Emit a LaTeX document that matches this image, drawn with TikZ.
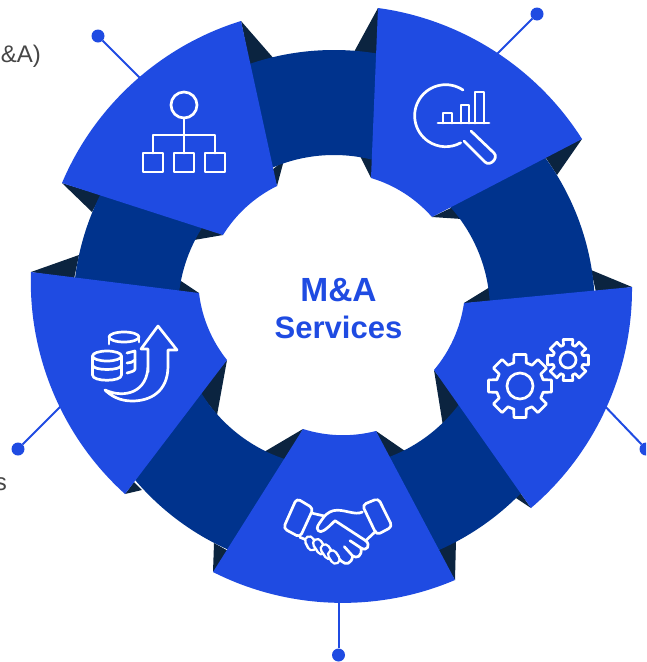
\documentclass[tikz,border=0pt]{standalone}
\usepackage{fontspec}
\setmainfont{Liberation Sans}
\definecolor{segblue}{RGB}{31, 75, 226}
\definecolor{bandblue}{RGB}{0, 51, 141}
\definecolor{foldnavy}{RGB}{11, 36, 64}
\definecolor{textgray}{RGB}{70, 70, 70}
\usetikzlibrary{positioning}
\tikzset{
  segment/.style={fill=segblue},
  outerbend/.style={bend left=25, looseness=.89},
  innerbend/.style={bend right=16, looseness=.87},
  icon/.style={draw=white, line width=2.7pt, line join=round, line cap=round},
  leaderdot/.style={circle, fill=segblue, inner sep=0pt, minimum size=13pt},
  leader/.style={draw=segblue, line width=2pt},
  sidetext/.style={text=textgray, font=\fontsize{24}{24}\selectfont, inner sep=0pt},
}
% one gear: centre, hole, root and tip radius, half angle of root and tip
\newcommand{\gearicon}[7]{
  \begin{scope}[shift={(#1,#2)}]
    \draw[icon] (0,0) circle (#3);
    \draw[icon] (-#6:#4) \foreach \a in {0,45,...,315} {
      -- (\a-#6:#4) -- (\a-#7:#5) -- (\a+#7:#5) -- (\a+#6:#4)
    } -- cycle;
  \end{scope}
}
\begin{document}
\begin{tikzpicture}[x=1pt, y=-1pt]
  \clip (0,0) rectangle (646,662);

  % Texts cut by the edge
  \node[sidetext, anchor=base east] (sidea) at (41,62) {\&A)};
  \node[sidetext, anchor=base east] (sideb) at (7,490) {s};

  % Leader lines
  \node[leaderdot] (dotorg) at (98,36) {};
  \node[leaderdot] (dotchart) at (537,14) {};
  \node[leaderdot] (dotgear) at (646,449) {};
  \node[leaderdot] (dothand) at (338.5,655) {};
  \node[leaderdot] (dotcoin) at (18,449) {};
  \coordinate (endorg) at (145,83);
  \coordinate (endchart) at (490,61);
  \coordinate (endgear) at (600,401);
  \coordinate (endhand) at (338.5,595);
  \coordinate (endcoin) at (68,399);
  \draw[leader] (dotorg) -- (endorg);
  \draw[leader] (dotchart) -- (endchart);
  \draw[leader] (dotgear) -- (endgear);
  \draw[leader] (dothand) -- (endhand);
  \draw[leader] (dotcoin) -- (endcoin);

  % Folds behind the band
  \foreach \ax/\ay/\bx/\by/\cx/\cy in {
    241/21/275/60/250/66, 277/186/284/160/272/170,
    62/183/92/212/101/195, 223/235/194/240/202/226,
    31/272/79/255/74/279, 199/293/178/279/176/292,
    227/360/217/415/199/392, 125/494/142/490/134/482,
    303/429/264/452/286/462, 213/572/214/543/230/552,
    376/431/405/451/388/460, 455/580/456/540/437/551,
    531/508/516/498/519/491, 434/370/443/426/460/404,
    464/303/490/287/492/302, 632/287/591/270/596/292,
    582/139/557/175/544/155, 432/217/453/207/462/219,
    378/8/354/52/378/55, 371/178/360/156/374/156}
    \fill[foldnavy] (\ax,\ay) -- (\bx,\by) -- (\cx,\cy) -- cycle;

  % Band
  \fill[bandblue, even odd rule] (334,311) circle (261) (334,311) circle (156);

  % Five segments
  \fill[segment] (62,183) to[outerbend] (241,21)
    -- (277,186) to[innerbend] (223,235) -- cycle;
  \fill[segment] (378,8) to[outerbend] (582,139)
    -- (432,217) to[innerbend] (371,178) -- cycle;
  \fill[segment] (632,287) to[outerbend] (531,508)
    -- (434,370) to[innerbend] (464,303) -- cycle;
  \fill[segment] (455,580) to[outerbend] (213,572)
    -- (303,429) to[innerbend] (376,431) -- cycle;
  \fill[segment] (125,494) to[outerbend] (31,272)
    -- (199,293) to[innerbend] (227,360) -- cycle;

  % Title
  \node[text=segblue, align=center, inner sep=0pt, font=\fontsize{31}{37}\selectfont\bfseries, anchor=base] (title) at (338.5,338) {{\fontsize{33.5}{37}\selectfont M\&A}\\Services};

  % Organisation icon
  \draw[icon] (184,105) circle (13);
  \draw[icon] (184,118) -- (184,153);
  \draw[icon] (153,153) -- (153,135) -- (215,135) -- (215,153);
  \foreach \x in {143,174,205}
    \draw[icon] (\x,153) rectangle ++(20,19);

  % Chart icon
  \draw[icon] (463,90) arc[start angle=-56, end angle=-299, radius=31];
  \draw[icon] (438,123) -- (489,123);
  \draw[icon] (443,123) |- (452,113) -- (452,123);
  \draw[icon] (461,123) |- (469,105) -- (469,123);
  \draw[icon] (475,123) |- (484,92) -- (484,123);
  \draw[icon] (471,131) -- (494,153) to[bend left=90, looseness=1.4] (485,162) -- (464,141);

  % Gear icon
  \gearicon{520}{386}{13}{24}{32}{15}{11}
  \gearicon{568}{360}{8}{15.5}{21}{17}{13}

  % Coin icon
  \draw[icon] (124,337) ellipse (15 and 5);
  \draw[icon] (109,337) -- (109,344);
  \draw[icon] (139,337) -- (139,342);
  \draw[icon] (127,353) -- (135,351) -- (135,369) .. controls (135,371) and (131,372) .. (127,373);
  \draw[icon] (127,363) .. controls (130,363) and (133,362) .. (135,360);
  \draw[icon] (107,356) ellipse (14.5 and 5);
  \draw[icon] (92.5,356) -- (92.5,375) .. controls (92.5,382) and (121.5,382) .. (121.5,375) -- (121.5,356);
  \draw[icon] (92.5,365) .. controls (92.5,371) and (121.5,371) .. (121.5,365);
  \draw[icon] (148,372) -- (148,349) -- (141,349) -- (158,326) -- (177,350) -- (168,350) -- (168,366)
    .. controls (168,392) and (150,401) .. (132,401) .. controls (120,401) and (111,396) .. (105,390)
    .. controls (125,399) and (148,392) .. (148,365);

  % Handshake icon
  \begin{scope}[shift={(275,490)}, scale=1/3]
    \draw[icon, rounded corners=4pt] (65,25) -- (115,55) -- (75,142) -- (25,115) -- cycle;
    \draw[icon, rounded corners=4pt] (262,45) -- (310,25) -- (352,110) -- (305,135) -- cycle;
    \draw[icon] (113,70) -- (148,78);
    \draw[icon] (262,66) .. controls (240,78) and (205,55) .. (175,62) .. controls (160,66) and (150,75) .. (140,90)
      .. controls (130,105) and (122,112) .. (130,122) .. controls (138,130) and (150,122) .. (180,92) -- (272,152) -- (302,124);
    \draw[icon] (272,152) .. controls (288,165) and (276,186) .. (258,174) -- (225,152);
    \draw[icon] (258,174) .. controls (262,200) and (245,206) .. (233,198) -- (208,170);
    \draw[icon] (233,198) .. controls (230,222) and (212,226) .. (200,214) -- (188,203);
    \draw[icon] (75,142) -- (90,148);
    \foreach \ux/\uy/\vx/\vy in {103/152/111/168, 127/160/140/180, 150/176/162/194, 172/194/181/208} {
      \draw[white, line width=11pt, line cap=round] (\ux,\uy) -- (\vx,\vy);
      \draw[segblue, line width=6pt, line cap=round] (\ux,\uy) -- (\vx,\vy);
    }
  \end{scope}
\end{tikzpicture}
\end{document}
